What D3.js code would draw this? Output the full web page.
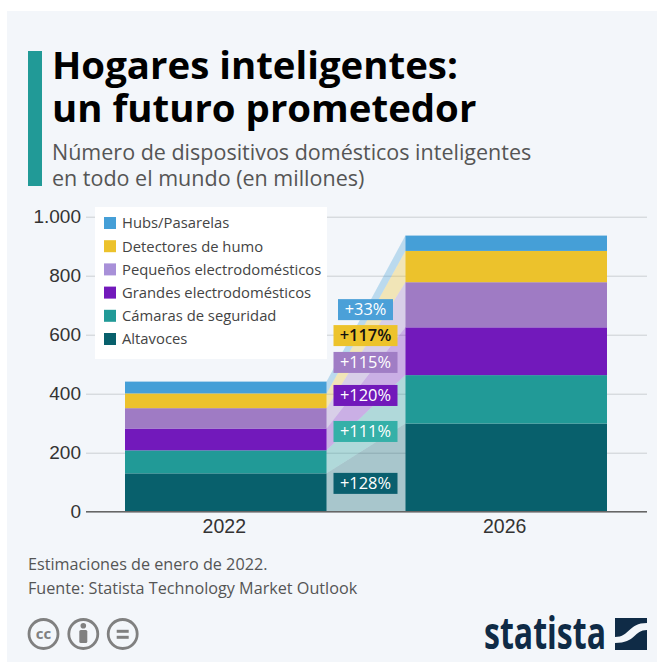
<!DOCTYPE html>
<html lang="es">
<head>
<meta charset="utf-8">
<title>Hogares inteligentes</title>
<script src="https://cdn.jsdelivr.net/npm/d3@7"></script>
<style>
    html, body { margin: 0; padding: 0; background: #fff; }
    svg { display: block; font-family: "Open Sans", sans-serif; }
    .grid .domain { display: none; }
    .grid line { stroke: #cbcfd2; stroke-width: 1px; }
    .grid text { fill: #333; font-size: 19px; }
    .xaxis .domain { stroke: #666; stroke-width: 1.5px; }
    .xaxis line { display: none; }
    .xaxis text { fill: #333; font-size: 19.5px; }
</style>
</head>
<body>
<script>
// data
var years = ["2022", "2026"];
var seriesNames = ["Altavoces", "Cámaras de seguridad", "Grandes electrodomésticos", "Pequeños electrodomésticos", "Detectores de humo", "Hubs/Pasarelas"];
var values2022 = [130, 78, 74, 69, 50, 40];
var values2026 = [299, 164, 162, 153, 106, 52];
var growthLabels = ["+128%", "+111%", "+120%", "+115%", "+117%", "+33%"];
var yTicks = [0, 200, 400, 600, 800, 1000];

// colours and label placement (in axis units)
var barColors = ["#08606c", "#219a97", "#7219bb", "#9f7bc4", "#ecc22c", "#459fd7"];
var swatchColors = ["#08606c", "#219a97", "#7219bb", "#a890d8", "#ecc22c", "#459fd7"];
var badgeColors = ["#0a5f6e", "#35b0a8", "#7119ba", "#a07dc5", "#edc32b", "#4ba0d8"];
var badgeLevels = [96, 272, 394, 506, 597, 685];

var w = 657, h = 662;
var svg = d3.select("body").append("svg").attr("width", w).attr("height", h);

// background panel
svg.append("rect").attr("x", 7).attr("y", 11).attr("width", w - 7).attr("height", h - 11).attr("fill", "#f3f6fa");

// title block
svg.append("rect").attr("x", 28).attr("y", 51).attr("width", 14).attr("height", 135).attr("fill", "#219a97");
var title = svg.append("text").attr("font-size", 38.4).attr("font-weight", 700).attr("fill", "#000");
title.append("tspan").attr("x", 52).attr("y", 79).text("Hogares inteligentes:");
title.append("tspan").attr("x", 52).attr("y", 122).text("un futuro prometedor");
var subtitle = svg.append("text").attr("font-size", 21.5).attr("fill", "#555");
subtitle.append("tspan").attr("x", 52).attr("y", 160).text("Número de dispositivos domésticos inteligentes");
subtitle.append("tspan").attr("x", 52).attr("y", 186).text("en todo el mundo (en millones)");

// scales
var y = d3.scaleLinear().domain([0, 1000]).range([511.7, 216.7]);
var x = d3.scaleBand().domain(years).range([125, 607]).paddingInner(0.281);
var esLocale = d3.formatLocale({ decimal: ",", thousands: ".", grouping: [3], currency: ["", " €"] });

// gridlines
svg.append("g").attr("class", "grid").attr("transform", "translate(647,0)")
    .call(d3.axisLeft(y).tickValues(yTicks).tickSize(561).tickPadding(5).tickFormat(esLocale.format(",")));

// stack the two years
var rows = years.map(function(yr, i) {
    var row = { year: yr };
    var vals = i === 0 ? values2022 : values2026;
    seriesNames.forEach(function(n, j) { row[n] = vals[j]; });
    return row;
});
var stacked = d3.stack().keys(seriesNames)(rows);

// connecting bands between the bars
var bandX = [x(years[0]) + x.bandwidth(), x(years[1])];
var band = d3.area()
    .x(function(d, i) { return bandX[i]; })
    .y0(function(d) { return y(d[0]); })
    .y1(function(d) { return y(d[1]); });

svg.append("g").selectAll("path")
    .data(stacked)
    .enter()
    .append("path")
    .attr("d", function(d) { return band(d); })
    .attr("fill", function(d, i) { return barColors[i]; })
    .attr("fill-opacity", 0.32);

// bars
svg.append("g").selectAll("g")
    .data(stacked)
    .enter()
    .append("g")
    .attr("fill", function(d, i) { return barColors[i]; })
    .selectAll("rect")
    .data(function(d) { return d; })
    .enter()
    .append("rect")
    .attr("x", function(d) { return x(d.data.year); })
    .attr("width", x.bandwidth())
    .attr("y", function(d) { return y(d[1]); })
    .attr("height", function(d) { return y(d[0]) - y(d[1]); });

// x axis
svg.append("g").attr("class", "xaxis").attr("transform", "translate(0,511.7)")
    .call(d3.axisBottom(x).tickSize(0).tickPadding(7))
    .select(".domain").attr("d", "M86,0H647");
svg.selectAll(".xaxis .tick text").attr("dx", -1.5);

// growth badges
var badgeX = (bandX[0] + bandX[1]) / 2 - 0.5;
var badges = svg.append("g").selectAll("g")
    .data(growthLabels)
    .enter()
    .append("g")
    .attr("transform", function(d, i) { return "translate(" + badgeX + "," + y(badgeLevels[i]) + ")"; });
badges.append("rect")
    .attr("x", function(d) { return d === "+33%" ? -27.5 : -32; })
    .attr("y", -10.5)
    .attr("width", function(d) { return d === "+33%" ? 55 : 64; })
    .attr("height", 21)
    .attr("fill", function(d, i) { return badgeColors[i]; });
badges.append("text")
    .attr("text-anchor", "middle")
    .attr("y", 5.8)
    .attr("font-size", 16.4)
    .attr("font-weight", function(d) { return d === "+117%" ? 600 : 400; })
    .attr("fill", function(d) { return d === "+117%" ? "#111" : "#fff"; })
    .text(function(d) { return d; });

// legend
var legend = svg.append("g");
legend.append("rect").attr("x", 95).attr("y", 207).attr("width", 232).attr("height", 152).attr("fill", "#fff");
var legendItems = legend.selectAll("g")
    .data(seriesNames.slice().reverse())
    .enter()
    .append("g")
    .attr("transform", function(d, i) { return "translate(104," + (223 + i * 23.2) + ")"; });
legendItems.append("rect")
    .attr("y", -6).attr("width", 12).attr("height", 12)
    .attr("fill", function(d, i) { return swatchColors[5 - i]; });
legendItems.append("text")
    .attr("x", 18).attr("y", 5.3)
    .attr("font-size", 14.8)
    .attr("fill", "#444")
    .text(function(d) { return d; });

// footer
svg.append("text").attr("x", 28).attr("y", 570).attr("font-size", 16.2).attr("fill", "#555").text("Estimaciones de enero de 2022.");
svg.append("text").attr("x", 28).attr("y", 594).attr("font-size", 16.2).attr("fill", "#555").text("Fuente: Statista Technology Market Outlook");

// cc icons
var icons = svg.append("g").attr("fill", "none").attr("stroke", "#808080").attr("stroke-width", 2.8);
[43.5, 83.3, 122.7].forEach(function(cx) {
    icons.append("circle").attr("cx", cx).attr("cy", 634).attr("r", 14.5);
});
svg.append("text").attr("x", 43.5).attr("y", 639).attr("text-anchor", "middle").attr("font-size", 15).attr("font-weight", 700).attr("fill", "#808080").text("cc");
svg.append("circle").attr("cx", 83.3).attr("cy", 625.7).attr("r", 2.8).attr("fill", "#808080");
svg.append("rect").attr("x", 79.3).attr("y", 630).attr("width", 8).attr("height", 13).attr("rx", 1.5).attr("fill", "#808080");
svg.append("rect").attr("x", 116.7).attr("y", 629.8).attr("width", 12).attr("height", 3).attr("fill", "#808080");
svg.append("rect").attr("x", 116.7).attr("y", 635.8).attr("width", 12).attr("height", 3).attr("fill", "#808080");

// statista logo
svg.append("text").attr("x", 484).attr("y", 649)
    .attr("textLength", 122).attr("lengthAdjust", "spacingAndGlyphs")
    .attr("font-size", 44).attr("font-weight", 700).attr("fill", "#0f2b46").text("statista");
svg.append("rect").attr("x", 615).attr("y", 618).attr("width", 32).attr("height", 32).attr("fill", "#0f2b46");
svg.append("path").attr("d", "M615,637 C630,637 628,623 647,623 L647,630 C634,630 636,643 615,643 Z").attr("fill", "#f3f6fa");
</script>
</body>
</html>
